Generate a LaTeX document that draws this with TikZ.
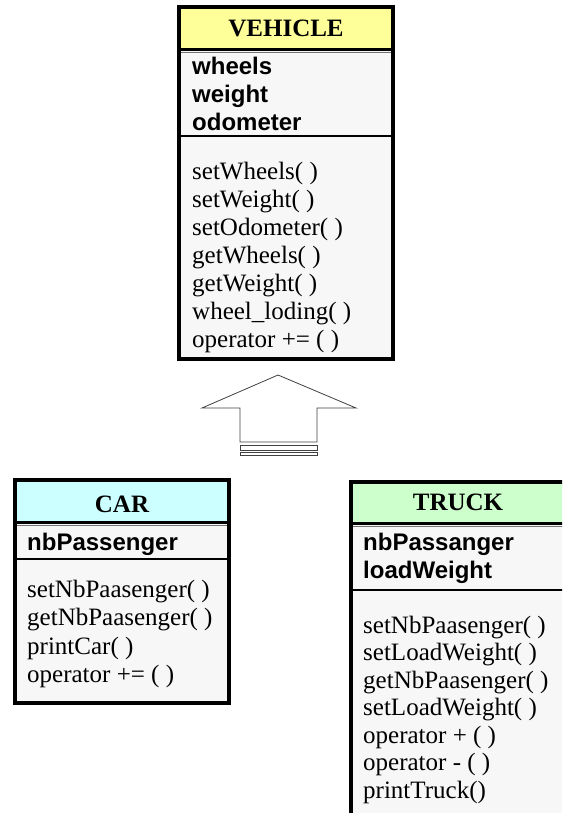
\documentclass[tikz,border=0pt]{standalone}
\usepackage{fontspec}
\setmainfont{Liberation Serif}
\newfontfamily\arialfont{Liberation Sans}
\usepackage{tikz}

\definecolor{vehyellow}{HTML}{FFFF99}
\definecolor{carcyan}{HTML}{CCFFFF}
\definecolor{truckgreen}{HTML}{CCFFCC}
\definecolor{bodygray}{HTML}{F7F7F7}

\tikzset{
  frame/.style={draw=black, line width=4pt},
  headline/.style={line width=2.5pt, black},
  subline/.style={line width=1.5pt, black!55},
  sepline/.style={line width=2pt, black},
  titletext/.style={anchor=base, inner sep=0pt, font=\fontsize{25}{28}\selectfont\bfseries},
  attrtext/.style={anchor=base west, inner sep=0pt, font=\arialfont\fontsize{24}{28}\selectfont\bfseries},
  methtext/.style={anchor=base west, inner sep=0pt, font=\fontsize{25}{28}\selectfont},
  blockarrow/.style={draw=black!75, line width=0.8pt, line join=miter},
}

\begin{document}
\begin{tikzpicture}[x=1pt,y=-1pt]
            \useasboundingbox (0,0) rectangle (562,813);
            \clip (0,0) rectangle (562,813);

            % vehicle
            \coordinate (VA) at (179,7);
            \coordinate (VB) at (393,359);
            \fill[vehyellow] (VA) rectangle (393,49.5);
            \fill[bodygray] (179,49.5) rectangle (VB);
            \draw[headline] (179,49.5) -- (393,49.5);
            \draw[subline] (179,52.5) -- (393,52.5);
            \draw[sepline] (179,136) -- (393,136);
            \node[titletext] (veh-title) at (286,37) {VEHICLE};
            \foreach \a [count=\i] in {wheels, weight, odometer}
                \node[attrtext] (veh-a\i) at (192,{47+28*\i}) {\a};
            \foreach \m [count=\i] in {setWheels( ), setWeight( ), setOdometer( ), getWheels( ),
                getWeight( ), wheel\_loding( ), operator += ( )}
                \node[methtext] (veh-m\i) at (192,{151+28*\i}) {\m};
            \draw[frame] (VA) rectangle (VB);

            % arrow
            \draw[blockarrow] (240,442) -- (240,408) -- (202,408) -- (278,375)
                -- (356,408) -- (317,408) -- (317,442) -- cycle;
            \draw[blockarrow] (240,445) rectangle (317,450);
            \draw[blockarrow] (240,452.5) rectangle (317,455.5);

            % car
            \coordinate (CA) at (15,480);
            \coordinate (CB) at (229,703);
            \fill[carcyan] (CA) rectangle (229,522.5);
            \fill[bodygray] (15,522.5) rectangle (CB);
            \draw[headline] (15,522.5) -- (229,522.5);
            \draw[subline] (15,525.5) -- (229,525.5);
            \draw[sepline] (15,559) -- (229,559);
            \node[titletext] (car-title) at (122,512) {CAR};
            \node[attrtext] (car-a1) at (27,550) {nbPassenger};
            \node[methtext] (car-m1) at (27,597) {setNbPaasenger( )};
            \node[methtext] (car-m2) at (27,625) {getNbPaasenger( )};
            \node[methtext] (car-m3) at (27,654) {printCar( )};
            \node[methtext] (car-m4) at (27,682) {operator += ( )};
            \draw[frame] (CA) rectangle (CB);

            % truck
            \coordinate (TA) at (351,482);
            \coordinate (TB) at (569,830);
            \fill[truckgreen] (TA) rectangle (569,523.5);
            \fill[bodygray] (351,523.5) rectangle (TB);
            \draw[headline] (351,523.5) -- (569,523.5);
            \draw[subline] (351,526.5) -- (569,526.5);
            \draw[sepline] (351,590) -- (569,590);
            \node[titletext] (truck-title) at (458,510) {TRUCK};
            \node[attrtext] (truck-a1) at (363,550) {nbPassanger};
            \node[attrtext] (truck-a2) at (363,578) {loadWeight};
            \foreach \m [count=\i] in {setNbPaasenger( ), setLoadWeight( ), getNbPaasenger( ),
                setLoadWeight( ), operator + ( ), operator - ( ), printTruck()}
                \node[methtext] (truck-m\i) at (363,{605.5+27.5*\i}) {\m};
            \draw[frame] (TA) rectangle (TB);
        \end{tikzpicture}
\end{document}
